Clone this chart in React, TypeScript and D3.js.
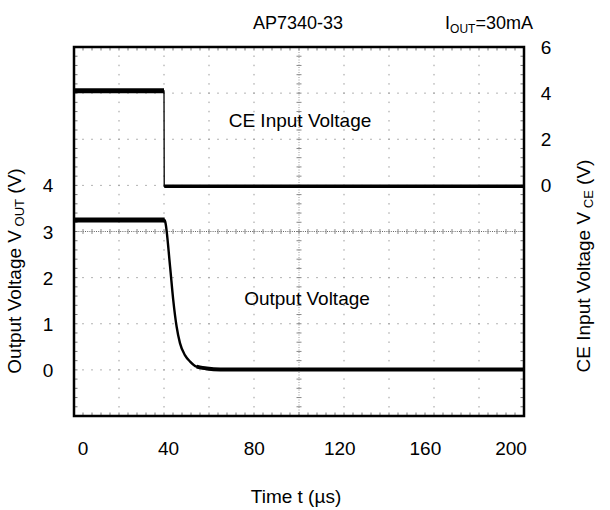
import React from "react";
import * as d3 from "d3";

const xTicks = [0, 40, 80, 120, 160, 200];
const leftTicks = [0, 1, 2, 3, 4];
const rightTicks = [0, 2, 4, 6];

// CE input voltage trace (right axis)
const ceTime = [0, 40, 40.1, 200];
const ceVolt = [4.1, 4.1, -0.04, -0.04];

// Output voltage trace (left axis)
const outTime = [0, 40.3, 40.6, 42.7, 44.1, 45.6, 47.1, 49.3, 51.6, 54.5, 59, 65, 200];
const outVolt = [3.25, 3.25, 3.2, 2.24, 1.52, 0.94, 0.58, 0.32, 0.18, 0.07, 0.03, 0.01, 0.01];

const FONT = "'Liberation Sans', Arial, sans-serif";

export default function App() {
  const L = 74, R = 524, T = 47, B = 416;
  const x = d3.scaleLinear().domain([0, 200]).range([L, R]);
  const xLab = d3.scaleLinear().domain([0, 200]).range([83, 511]);
  const yOut = d3.scaleLinear().domain([-1, 7]).range([B, T]);
  const yCe = d3.scaleLinear().domain([-10, 6]).range([B, T]);

  const xDivs = d3.range(0, 201, 20);
  const yDivs = d3.range(-1, 8, 1);
  const xMinor = d3.range(0, 200.01, 4);
  const yMinor = d3.range(-1, 7.001, 0.2);
  const cx = x(100);
  const cy = yOut(3);
  const mx = x(4) - x(0);
  const my = yOut(0) - yOut(0.2);

  const ceLine = d3.line<number>().x((d) => x(ceTime[d])).y((d) => yCe(ceVolt[d]));
  const outLine = d3
    .line<number>()
    .x((d) => x(outTime[d]))
    .y((d) => yOut(outVolt[d]))
    .curve(d3.curveMonotoneX);

  const idx = (arr: number[]) => arr.map((_, i) => i);
  const ceAll = idx(ceTime);
  const outAll = idx(outTime);
  const outLowStart = 9;

  return (
    <svg
      width={610}
      height={510}
      style={{ position: "absolute", left: 0, top: 0, background: "#fff" }}
      fontFamily={FONT}
    >
      <rect x={0} y={0} width={610} height={510} fill="#fff" />
      {/* grid dotted lines */}
      {xDivs.slice(1, -1).filter((v) => v !== 100).map((v) => (
        <line key={"gx" + v} x1={x(v)} x2={x(v)} y1={T} y2={B} stroke="#999" strokeWidth={1}
          strokeDasharray={`1.5 ${my - 1.5}`} strokeDashoffset={-my + 0.75} />
      ))}
      {yDivs.slice(1, -1).filter((v) => v !== 3).map((v) => (
        <line key={"gy" + v} x1={L} x2={R} y1={yOut(v)} y2={yOut(v)} stroke="#999" strokeWidth={1}
          strokeDasharray={`1.5 ${mx - 1.5}`} strokeDashoffset={-mx + 0.75} />
      ))}
      {/* center cross */}
      <line x1={L} x2={R} y1={cy} y2={cy} stroke="#666" strokeWidth={1} strokeDasharray="1 1.2" />
      <line x1={cx} x2={cx} y1={T} y2={B} stroke="#999" strokeWidth={1} strokeDasharray="1 1.5" />
      {xMinor.map((v) => (
        <line key={"cxm" + v} x1={x(v)} x2={x(v)} y1={cy - 2.5} y2={cy + 2.5} stroke="#888" strokeWidth={1} />
      ))}
      {yMinor.map((v) => (
        <line key={"cym" + v} x1={cx - 2.5} x2={cx + 2.5} y1={yOut(v)} y2={yOut(v)} stroke="#888" strokeWidth={1} />
      ))}
      {/* edge ticks */}
      {xMinor.map((v) => (
        <g key={"ex" + v}>
          <line x1={x(v)} x2={x(v)} y1={T} y2={T + 3.5} stroke="#777" strokeWidth={1} />
          <line x1={x(v)} x2={x(v)} y1={B} y2={B - 3.5} stroke="#777" strokeWidth={1} />
        </g>
      ))}
      {yMinor.map((v) => (
        <g key={"ey" + v}>
          <line x1={L} x2={L + 3.5} y1={yOut(v)} y2={yOut(v)} stroke="#777" strokeWidth={1} />
          <line x1={R} x2={R - 3.5} y1={yOut(v)} y2={yOut(v)} stroke="#777" strokeWidth={1} />
        </g>
      ))}

      {/* traces */}
      <path d={ceLine(ceAll) || ""} fill="none" stroke="#000" strokeWidth={1.3} />
      <path d={ceLine(ceAll.slice(0, 2)) || ""} fill="none" stroke="#000" strokeWidth={5} />
      <path d={ceLine(ceAll.slice(2)) || ""} fill="none" stroke="#000" strokeWidth={3.5} />
      <path d={outLine(outAll) || ""} fill="none" stroke="#000" strokeWidth={2.4} />
      <path d={outLine(outAll.slice(0, 2)) || ""} fill="none" stroke="#000" strokeWidth={5} />
      <path d={outLine(outAll.slice(outLowStart)) || ""} fill="none" stroke="#000" strokeWidth={4} />

      {/* frame */}
      <rect x={L} y={T} width={R - L} height={B - T} fill="none" stroke="#000" strokeWidth={2.5} />

      {/* axis labels */}
      {xTicks.map((v) => (
        <text key={"xt" + v} x={xLab(v)} y={455} fontSize={19} textAnchor="middle">{v}</text>
      ))}
      {leftTicks.map((v) => (
        <text key={"lt" + v} x={48} y={yOut(v) + 7} fontSize={19} textAnchor="middle">{v}</text>
      ))}
      {rightTicks.map((v) => (
        <text key={"rt" + v} x={546} y={yCe(v) + 7} fontSize={19} textAnchor="middle">{v}</text>
      ))}

      <text x={298} y={29} fontSize={18} textAnchor="middle">AP7340-33</text>
      <text x={533} y={29} fontSize={18} textAnchor="end">
        I<tspan fontSize={12} dy={4}>OUT</tspan><tspan dy={-4}>=30mA</tspan>
      </text>

      <text x={300} y={127} fontSize={19} textAnchor="middle">CE Input Voltage</text>
      <text x={307} y={305} fontSize={19} textAnchor="middle">Output Voltage</text>

      <text x={296} y={503} fontSize={19} textAnchor="middle">Time t (µs)</text>

      <text transform="translate(21,271) rotate(-90)" fontSize={19} textAnchor="middle">
        Output Voltage V<tspan fontSize={13} dy={3}> OUT</tspan><tspan dy={-3}> (V)</tspan>
      </text>
      <text transform="translate(590,266) rotate(-90)" fontSize={19} textAnchor="middle">
        CE Input Voltage V<tspan fontSize={13} dy={3}> CE</tspan><tspan dy={-3}> (V)</tspan>
      </text>
    </svg>
  );
}
